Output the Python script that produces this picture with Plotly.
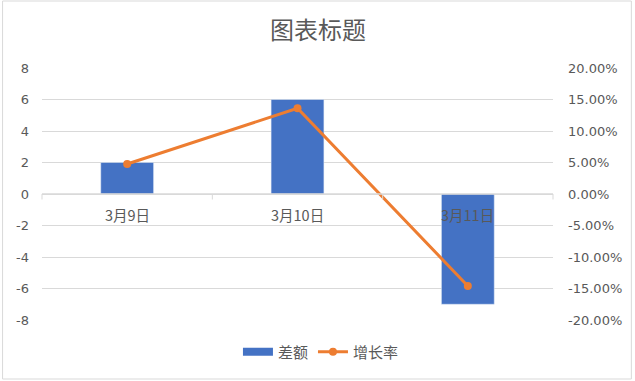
import plotly.graph_objects as go

categories = ["3月9日", "3月10日", "3月11日"]
diff_values = [2, 6, -7]
growth_rates = [0.0476, 0.136, -0.146]
left_ticks = [-8, -6, -4, -2, 0, 2, 4, 6, 8]
left_tick_labels = ["-8", "-6", "-4", "-2", "0", "2", "4", "6", "8"]
right_ticks = [-0.20, -0.15, -0.10, -0.05, 0.0, 0.05, 0.10, 0.15, 0.20]
right_tick_labels = ["-20.00%", "-15.00%", "-10.00%", "-5.00%", "0.00%",
                     "5.00%", "10.00%", "15.00%", "20.00%"]

FONT = "Noto Sans CJK SC"
NUMFONT = "DejaVu Sans"
GRAY = "#595959"
GRID = "#d9d9d9"
BLUE = "#4472C4"
ORANGE = "#ED7D31"

W, H = 635, 381
L, R, T, B = 41.5, 81.5, 68, 61
pw, ph = W - L - R, H - T - B

fig = go.Figure()
fig.add_trace(go.Bar(x=categories, y=diff_values, name="差额", marker_color=BLUE,
                     width=0.31, showlegend=False, yaxis="y"))
fig.add_trace(go.Scatter(x=categories, y=growth_rates, name="增长率", mode="lines+markers",
                         line=dict(color=ORANGE, width=3), marker=dict(color=ORANGE, size=8),
                         yaxis="y2", showlegend=False))
# legend-only entries
fig.add_trace(go.Scatter(x=[None], y=[None], name="差额", mode="lines",
                         line=dict(color=BLUE, width=8), yaxis="y"))
fig.add_trace(go.Scatter(x=[None], y=[None], name="增长率", mode="lines+markers",
                         line=dict(color=ORANGE, width=3), marker=dict(color=ORANGE, size=8),
                         yaxis="y2"))

annotations = []
for c in categories:
    annotations.append(dict(x=c, y=0, xref="x", yref="y", text=c, showarrow=False,
                            yanchor="middle", yshift=-20,
                            font=dict(family=FONT, size=14.5, color=GRAY)))

shapes = []
n = len(categories)
for i in range(n + 1):
    xp = i / n
    shapes.append(dict(type="line", xref="paper", yref="y", x0=xp, x1=xp, y0=0, y1=-0.35,
                       line=dict(color=GRID, width=1)))
# zero line
shapes.append(dict(type="line", xref="paper", yref="y", x0=0, x1=1, y0=0, y1=0,
                   line=dict(color=GRID, width=1.3)))
# chart border
shapes.append(dict(type="rect", xref="paper", yref="paper",
                   x0=(2 - L) / pw, x1=(632 - L) / pw,
                   y0=(H - B - 379) / ph, y1=(H - B - 1) / ph,
                   line=dict(color=GRID, width=1)))

fig.update_layout(
    width=W, height=H,
    margin=dict(l=L, r=R, t=T, b=B, autoexpand=False),
    paper_bgcolor="white", plot_bgcolor="white",
    font=dict(family=FONT, color=GRAY),
    title=dict(text="图表标题", x=318 / W, xref="container", xanchor="center",
               y=1 - 31 / H, yref="container", yanchor="middle",
               font=dict(family=FONT, size=24, color=GRAY)),
    xaxis=dict(type="category", showticklabels=False, showgrid=False, zeroline=False,
               showline=False, range=[-0.5, n - 0.5], automargin=False),
    yaxis=dict(range=[-8, 8], tickvals=left_ticks, ticktext=left_tick_labels,
               showgrid=True, gridcolor=GRID,
               gridwidth=1, zeroline=False, showline=False, ticks="", automargin=False,
               ticklabelstandoff=12, tickfont=dict(family=NUMFONT, size=13, color=GRAY)),
    yaxis2=dict(range=[-0.2, 0.2], tickvals=right_ticks, ticktext=right_tick_labels,
                overlaying="y",
                side="right", showgrid=False, zeroline=False, showline=False, ticks="",
                automargin=False,
                ticklabelstandoff=14, tickfont=dict(family=NUMFONT, size=13, color=GRAY)),
    legend=dict(orientation="h", x=(321 - L) / pw, xanchor="center",
                y=(H - B - 352) / ph, yanchor="middle",
                font=dict(family=FONT, size=15, color=GRAY)),
    annotations=annotations,
    shapes=shapes,
    bargap=0.69,
)

fig.write_html("out.html", config={"displayModeBar": False},
               post_script="document.body.style.margin='0';document.body.style.overflow='hidden';")
